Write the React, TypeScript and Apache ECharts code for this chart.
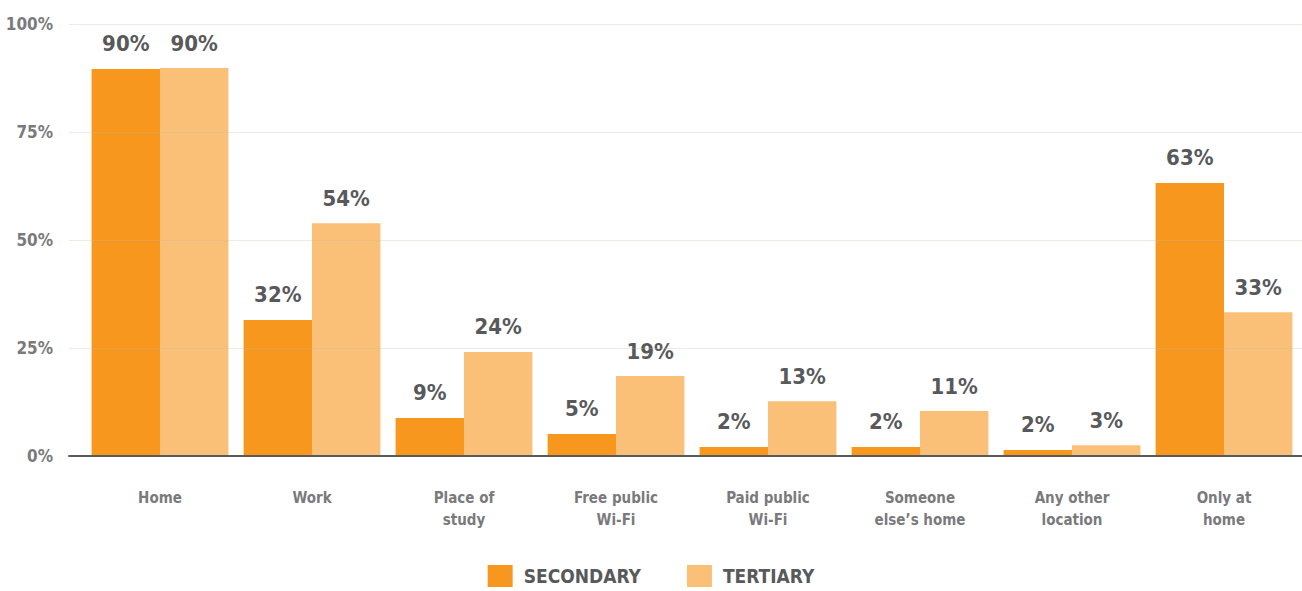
import React, { useEffect, useRef } from "react";
import * as echarts from "echarts";

const categories = [
  "Home",
  "Work",
  "Place of\nstudy",
  "Free public\nWi-Fi",
  "Paid public\nWi-Fi",
  "Someone\nelse’s home",
  "Any other\nlocation",
  "Only at\nhome",
];
const secondary = [89.6, 31.5, 8.8, 5.1, 2.1, 2.1, 1.4, 63.2];
const tertiary = [89.8, 53.9, 24.1, 18.5, 12.7, 10.4, 2.5, 33.3];
const secondaryLabels = [90, 32, 9, 5, 2, 2, 2, 63];
const tertiaryLabels = [90, 54, 24, 19, 13, 11, 3, 33];
const yTicks = [0, 25, 50, 75, 100];

const FONT = "'Liberation Sans Narrow', 'DejaVu Sans Condensed', 'Roboto', sans-serif";

export default function App() {
  const ref = useRef<HTMLDivElement>(null);
  useEffect(() => {
    document.body.style.margin = "0";
    const chart = echarts.init(ref.current!, null, { renderer: "svg" });
    const label = (arr: number[]) => ({
      show: true,
      position: "top",
      distance: 14,
      fontFamily: FONT,
      fontWeight: "bold",
      fontSize: 22,
      color: "#58595b",
      formatter: (p: any) => arr[p.dataIndex] + "%",
    });
    chart.setOption({
      animation: false,
      textStyle: { fontFamily: FONT },
      grid: [
        { left: 69, right: 0, top: 24, bottom: 135 },
        { left: 84, right: 2, top: 24, bottom: 135 },
      ],
      xAxis: [
        {
          gridIndex: 0,
          type: "category",
          data: [],
          axisLine: { show: true, lineStyle: { color: "#5a5a5a", width: 2 } },
          axisTick: { show: false },
          axisLabel: { show: false },
          z: 10,
        },
        {
          gridIndex: 1,
          type: "category",
          data: categories,
          axisLine: { show: false },
          axisTick: { show: false },
          axisLabel: {
            margin: 31,
            fontFamily: FONT,
            fontWeight: "bold",
            fontSize: 15,
            lineHeight: 22,
            color: "#7a7a7c",
            interval: 0,
          },
        },
      ],
      yAxis: [
        {
          gridIndex: 0,
          type: "value",
          min: yTicks[0],
          max: yTicks[yTicks.length - 1],
          interval: 25,
          z: 10,
          axisLine: { show: false },
          axisTick: { show: false },
          axisLabel: {
            margin: 16,
            formatter: "{value}%",
            fontFamily: FONT,
            fontWeight: "bold",
            fontSize: 17,
            color: "#7a7a7c",
          },
          splitLine: { lineStyle: { color: "rgba(200,185,160,0.3)", width: 1 } },
        },
        {
          gridIndex: 1,
          type: "value",
          min: 0,
          max: 100,
          show: false,
          splitLine: { show: false },
        },
      ],
      legend: {
        left: "center",
        top: 565,
        padding: 0,
        itemWidth: 25,
        itemHeight: 22,
        itemGap: 46,
        icon: "rect",
        textStyle: {
          fontFamily: FONT,
          fontWeight: "bold",
          fontSize: 19,
          lineHeight: 22,
          color: "#58595b",
          padding: [0, 0, 0, 6],
        },
        data: ["SECONDARY", "TERTIARY"],
      },
      series: [
        {
          name: "SECONDARY",
          type: "bar",
          xAxisIndex: 1,
          yAxisIndex: 1,
          data: secondary,
          barGap: "0%",
          barCategoryGap: "10%",
          itemStyle: { color: "#F7971E" },
          label: label(secondaryLabels),
        },
        {
          name: "TERTIARY",
          type: "bar",
          xAxisIndex: 1,
          yAxisIndex: 1,
          data: tertiary,
          barGap: "0%",
          barCategoryGap: "10%",
          itemStyle: { color: "#FAC077" },
          label: label(tertiaryLabels),
        },
      ],
    });
    return () => chart.dispose();
  }, []);
  return <div ref={ref} style={{ width: 1302, height: 591 }} />;
}
